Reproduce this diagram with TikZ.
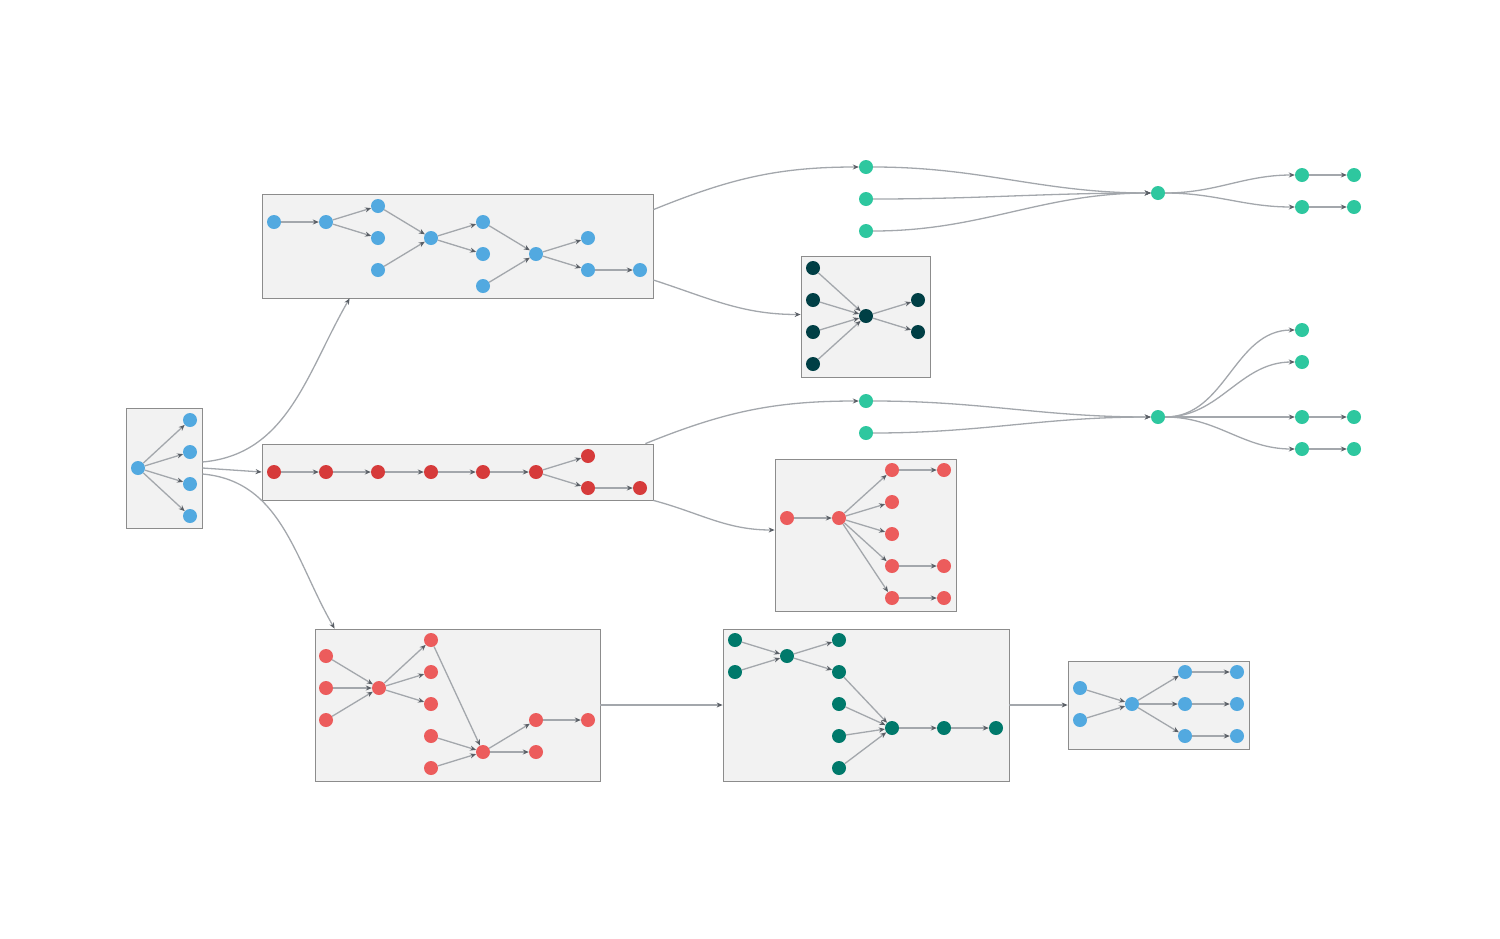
\documentclass[tikz,border=0pt]{standalone}
\usetikzlibrary{calc,arrows.meta}
\definecolor{cblue}{HTML}{52A9E0}
\definecolor{cmint}{HTML}{2EC79F}
\definecolor{cdark}{HTML}{003F45}
\definecolor{cred}{HTML}{EC5C5C}
\definecolor{cdred}{HTML}{D63B3B}
\definecolor{cgreen}{HTML}{00796B}
\definecolor{edgec}{HTML}{A3A7AC}
\definecolor{tipc}{HTML}{5A5F66}
\begin{document}
\begin{tikzpicture}[x=1pt,y=-1pt,
  box/.style={draw=black!45,fill=black!5,line width=0.8pt,inner sep=0},
  dot/.style={circle,inner sep=0,minimum size=14pt,fill=#1},
  e/.style={draw=edgec,line width=1.3pt,-{Stealth[length=6pt,width=5pt,fill=tipc,color=tipc]}},
  ee/.style={e,shorten >=0pt}]
\useasboundingbox (0,0) rectangle (1500,938);
% boxes
\node[box,minimum width=76pt,minimum height=120pt] (A) at (164,468) {};
\node[box,minimum width=391pt,minimum height=104pt] (B) at (457.5,246) {};
\node[box,minimum width=391pt,minimum height=56pt] (C) at (457.5,472) {};
\node[box,minimum width=129pt,minimum height=121pt] (D) at (865.5,316.5) {};
\node[box,minimum width=181pt,minimum height=152pt] (E) at (865.5,535) {};
\node[box,minimum width=285pt,minimum height=152pt] (F) at (457.5,705) {};
\node[box,minimum width=286pt,minimum height=152pt] (G) at (866,705) {};
\node[box,minimum width=181pt,minimum height=88pt] (H) at (1158.5,705) {};
% A
\node[dot=cblue] (a0) at (138,468) {};
\foreach \i/\y in {1/420,2/452,3/484,4/516}{\node[dot=cblue] (a\i) at (190,\y) {}; \draw[e] (a0)--(a\i);}
% B
\foreach \n/\x/\y in {1/274/222,2/326/222,3/378/206,4/378/238,5/378/270,6/431/238,7/483/222,8/483/254,9/483/286,10/536/254,11/588/238,12/588/270,13/640/270}
  \node[dot=cblue] (b\n) at (\x,\y) {};
\foreach \s/\t in {1/2,2/3,2/4,3/6,5/6,6/7,6/8,7/10,9/10,10/11,10/12,12/13} \draw[e] (b\s)--(b\t);
% C
\foreach \n/\x/\y in {1/274/472,2/326/472,3/378/472,4/431/472,5/483/472,6/536/472,7/588/456,8/588/488,9/640/488}
  \node[dot=cdred] (c\n) at (\x,\y) {};
\foreach \s/\t in {1/2,2/3,3/4,4/5,5/6,6/7,6/8,8/9} \draw[e] (c\s)--(c\t);
% D
\foreach \n/\x/\y in {1/813/268,2/813/300,3/813/332,4/813/364,5/866/316,6/918/300,7/918/332}
  \node[dot=cdark] (d\n) at (\x,\y) {};
\foreach \s/\t in {1/5,2/5,3/5,4/5,5/6,5/7} \draw[e] (d\s)--(d\t);
% E
\foreach \n/\x/\y in {1/787/518,2/839/518,3/892/470,4/892/502,5/892/534,6/892/566,7/892/598,8/944/470,9/944/566,10/944/598}
  \node[dot=cred] (e\n) at (\x,\y) {};
\foreach \s/\t in {1/2,2/3,2/4,2/5,2/6,2/7,3/8,6/9,7/10} \draw[e] (e\s)--(e\t);
% F
\foreach \n/\x/\y in {1/326/656,2/326/688,3/326/720,4/379/688,5/431/640,6/431/672,7/431/704,8/431/736,9/431/768,10/483/752,11/536/720,12/536/752,13/588/720}
  \node[dot=cred] (f\n) at (\x,\y) {};
\foreach \s/\t in {1/4,2/4,3/4,4/5,4/6,4/7,5/10,8/10,9/10,10/11,10/12,11/13} \draw[e] (f\s)--(f\t);
% G
\foreach \n/\x/\y in {1/735/640,2/735/672,3/787/656,4/839/640,5/839/672,6/839/704,7/839/736,8/839/768,9/892/728,10/944/728,11/996/728}
  \node[dot=cgreen] (g\n) at (\x,\y) {};
\foreach \s/\t in {1/3,2/3,3/4,3/5,5/9,6/9,7/9,8/9,9/10,10/11} \draw[e] (g\s)--(g\t);
% H
\foreach \n/\x/\y in {1/1080/688,2/1080/720,3/1132/704,4/1185/672,5/1185/704,6/1185/736,7/1237/672,8/1237/704,9/1237/736}
  \node[dot=cblue] (h\n) at (\x,\y) {};
\foreach \s/\t in {1/3,2/3,3/4,3/5,3/6,4/7,5/8,6/9} \draw[e] (h\s)--(h\t);
% mint groups
\foreach \n/\x/\y in {1/866/167,2/866/199,3/866/231,4/1158/193,5/1302/175,6/1354/175,7/1302/207,8/1354/207}
  \node[dot=cmint] (m\n) at (\x,\y) {};
\foreach \n/\x/\y in {1/866/401,2/866/433,4/1158/417,5/1302/330,6/1302/362,7/1302/417,8/1354/417,9/1302/449,10/1354/449}
  \node[dot=cmint] (n\n) at (\x,\y) {};
\foreach \s in {1,2,3} \draw[e] (m\s) to[out=0,in=180] (m4);
\foreach \t in {5,7} \draw[e] (m4) to[out=0,in=180] (m\t);
\draw[e] (m5)--(m6); \draw[e] (m7)--(m8);
\foreach \s in {1,2} \draw[e] (n\s) to[out=0,in=180] (n4);
\foreach \t in {5,6,7,9} \draw[e] (n4) to[out=0,in=180] (n\t);
\draw[e] (n7)--(n8); \draw[e] (n9)--(n10);
% inter-box
\draw[e] ($(A.east)+(0,-6)$) to[out=5,in=-120] ($(B.south west)+(88,0)$);
\draw[e] (A.east) -- (C.west);
\draw[e] ($(A.east)+(0,6)$) to[out=-5,in=120] ($(F.north west)+(20,0)$);
\draw[e] ($(B.north east)+(0,16)$) to[out=22,in=180] (m1);
\draw[e] ($(B.east)+(0,34)$) to[out=-18,in=180] ($(D.west)+(0,-2)$);
\draw[e] ($(C.north east)+(-8,0)$) to[out=22,in=180] (n1);
\draw[e] (C.south east) to[out=-15,in=180] ($(E.west)+(0,-5)$);
\draw[e] (F.east) -- (G.west);
\draw[e] (G.east) -- (H.west);
\end{tikzpicture}
\end{document}
